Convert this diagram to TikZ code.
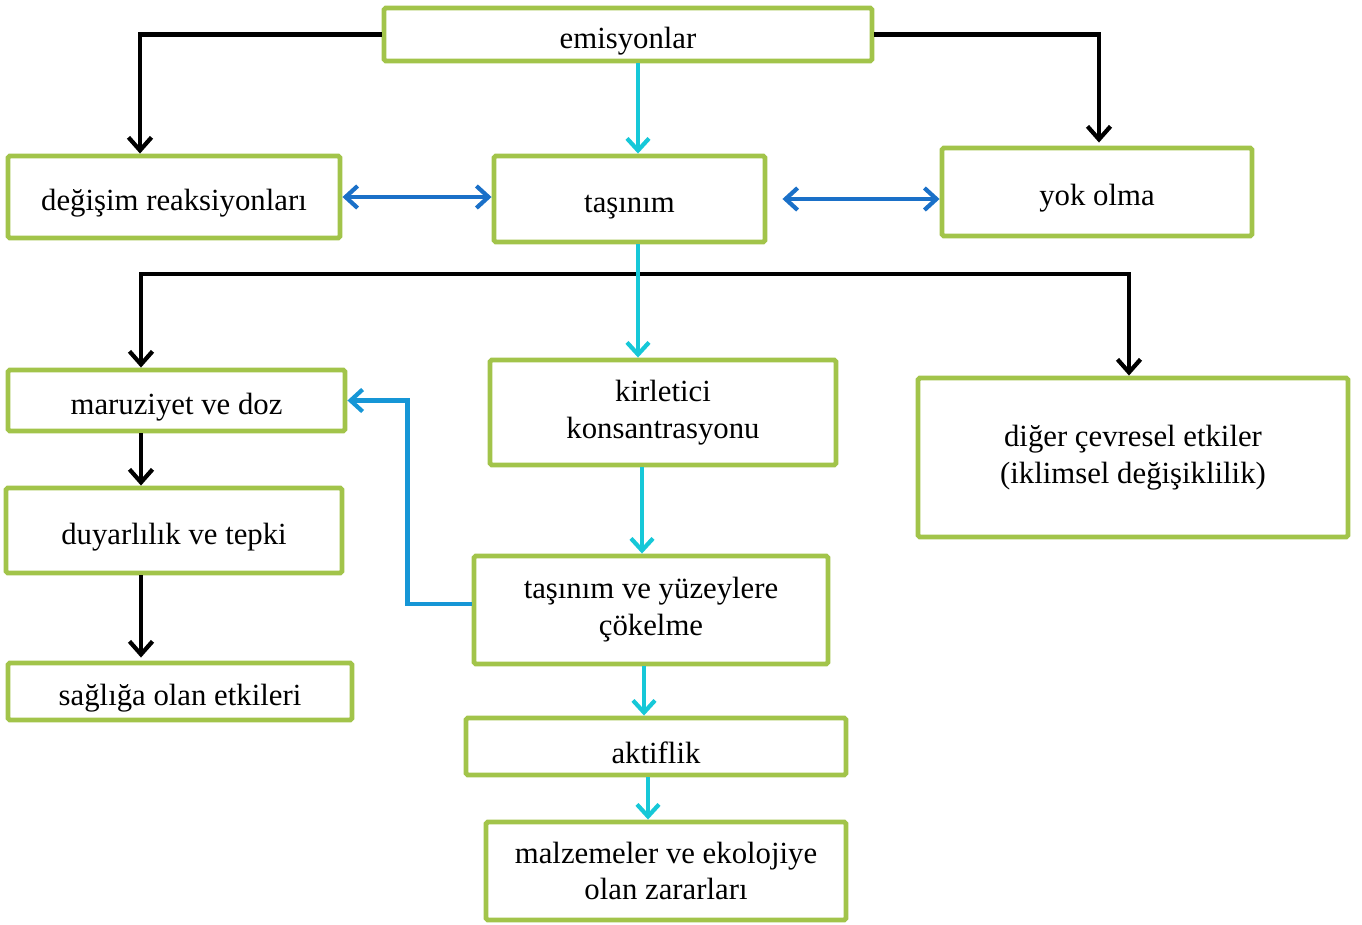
\documentclass[tikz,border=0pt]{standalone}
\usepackage{fontspec}
\setmainfont{Liberation Serif}
\newfontfamily\boxfont{Liberation Serif}
\usetikzlibrary{positioning}
\usetikzlibrary{arrows.meta}

\definecolor{boxgreen}{RGB}{162,196,74}
\definecolor{flowcyan}{RGB}{22,200,216}
\definecolor{linkblue}{RGB}{26,112,200}
\definecolor{backblue}{RGB}{22,150,214}

\tikzset{
  box/.style={draw=boxgreen, line width=2.8pt, rounded corners=1pt, fill=white,
    align=center, inner sep=2pt, font=\boxfont\fontsize{17.5}{21}\selectfont,
    execute at begin node={\rule{0pt}{1.1em}}},
  blk/.style={draw=black, line width=2.4pt, -{Straight Barb[length=2.6mm,width=4.6mm]}},
  cyanflow/.style={draw=flowcyan, line width=2.4pt, -{Straight Barb[length=2.4mm,width=4.4mm]}},
  both/.style={draw=linkblue, line width=2.4pt, {Straight Barb[length=2.4mm,width=4.4mm]}-{Straight Barb[length=2.4mm,width=4.4mm]}},
  back/.style={draw=backblue, line width=2.4pt, -{Straight Barb[length=2.4mm,width=4.4mm]}}
}

\begin{document}
\begin{tikzpicture}
\useasboundingbox (0,0) rectangle (27.24,-18.5);
%top row
\node[box, minimum width=9.76cm, minimum height=1.06cm] (emis) at (12.56,-0.69) {emisyonlar};
\node[box, minimum width=6.64cm, minimum height=1.64cm] (degisim) at (3.48,-3.94) {değişim reaksiyonları};
\node[box, minimum width=5.42cm, minimum height=1.72cm] (tasinim) at (12.59,-3.98) {taşınım};
\node[box, minimum width=6.2cm, minimum height=1.76cm] (yok) at (21.94,-3.84) {yok olma};
%left column
\node[box, minimum width=6.74cm, minimum height=1.22cm] (maruz) at (3.53,-8.01) {maruziyet ve doz};
\node[box, minimum width=6.72cm, minimum height=1.7cm] (duyar) at (3.48,-10.61) {duyarlılık ve tepki};
\node[box, minimum width=6.88cm, minimum height=1.14cm] (saglik) at (3.6,-13.83) {sağlığa olan etkileri};
%middle column
\node[box, minimum width=6.92cm, minimum height=2.1cm] (kirl) at (13.26,-8.25) {kirletici\\konsantrasyonu};
\node[box, minimum width=7.08cm, minimum height=2.16cm] (tasyuz) at (13.02,-12.2) {taşınım ve yüzeylere\\çökelme};
\node[box, minimum width=7.6cm, minimum height=1.14cm] (aktif) at (13.12,-14.93) {aktiflik};
\node[box, minimum width=7.2cm, minimum height=1.96cm] (malz) at (13.32,-17.42) {malzemeler ve ekolojiye\\olan zararları};
%right
\node[box, minimum width=8.6cm, minimum height=3.18cm] (diger) at (22.66,-9.15) {diğer çevresel etkiler\\(iklimsel değişiklilik)};
%black branches
\draw[blk] (emis.west) -| ([xshift=-0.68cm]degisim.north);
\draw[blk] (emis.east) -| ([xshift=0.04cm,yshift=0.06cm]yok.north);
\coordinate (bus) at (12.76,-5.48);
\draw[blk, {Straight Barb[length=2.6mm,width=4.6mm]}-{Straight Barb[length=2.6mm,width=4.6mm]}] ([xshift=-0.71cm]maruz.north) |- (bus) -| ([xshift=-0.08cm]diger.north);
\draw[blk] ([xshift=-0.71cm]maruz.south) -- ([xshift=-0.71cm]maruz.south |- duyar.north);
\draw[blk] ([xshift=-0.66cm]duyar.south) -- ([xshift=-0.66cm,yshift=0.06cm]duyar.south |- saglik.north);
%cyan flow
\draw[cyanflow] ([xshift=0.2cm]emis.south) -- ([xshift=0.2cm]emis.south |- tasinim.north);
\draw[cyanflow] ([xshift=0.17cm]tasinim.south) -- ([xshift=0.17cm]tasinim.south |- kirl.north);
\draw[cyanflow] ([xshift=-0.42cm]kirl.south) -- ([xshift=-0.42cm]kirl.south |- tasyuz.north);
\draw[cyanflow] ([xshift=-0.14cm]tasyuz.south) -- ([xshift=-0.14cm]tasyuz.south |- aktif.north);
\draw[cyanflow] ([xshift=-0.16cm]aktif.south) -- ([xshift=-0.16cm]aktif.south |- malz.north);
%blue links
\draw[both] (degisim.east) -- (degisim.east -| tasinim.west);
\draw[both] ([xshift=0.3cm]tasinim.east) -- (tasinim.east -| yok.west);
\draw[back] ([yshift=0.12cm]tasyuz.west) -- ++(-1.28,0) |- (maruz.east);
\end{tikzpicture}
\end{document}
